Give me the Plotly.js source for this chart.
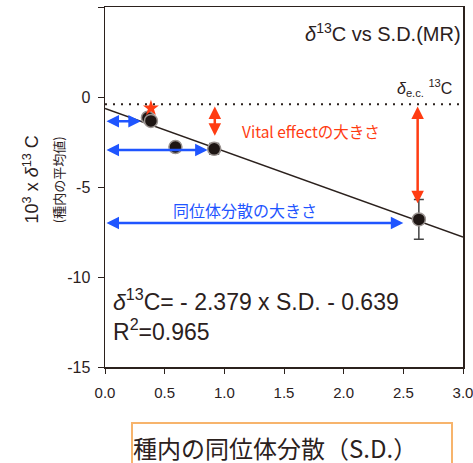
<!DOCTYPE html>
<html><head><meta charset="utf-8">
<script src="https://cdn.plot.ly/plotly-3.0.1.min.js"></script>
<style>body{margin:0;background:#fff}#c{width:473px;height:463px}</style>
</head><body><div id="c"></div>
<script>
// Data
const sdValues = [0.36, 0.385, 0.59, 0.915, 2.63];
const d13Values = [-1.15, -1.33, -2.78, -2.88, -6.8];
const errValues = [0.15, 0.15, 0, 0.3, 1.1];
const fitX = [0, 3];
const fitY = [-0.64, -7.78];
const ecLevel = -0.4;
const starPoint = {x: [0.385], y: [-0.62]};
const xTicks = [0, 0.5, 1, 1.5, 2, 2.5, 3];
const xTickText = ['0.0','0.5','1.0','1.5','2.0','2.5','3.0'];
const yTicks = [5, 0, -5, -10, -15];
const yTickText = ['5','0','-5','-10','-15'];

const dark = '#2b211d';
const blue = '#1f55ff';
const red = '#ff3c12';
const F = 'Liberation Sans, Arial, sans-serif';
const FJ = 'Noto Sans CJK JP, Liberation Sans, sans-serif';

const traces = [
  {x: fitX, y: fitY, mode: 'lines', line: {color: dark, width: 1.5}, hoverinfo: 'skip'},
  {x: sdValues, y: d13Values, mode: 'markers',
   marker: {size: 13, color: '#1e1614', line: {color: '#9a9390', width: 1.5}},
   error_y: {type: 'data', array: errValues, visible: true, color: '#444', thickness: 1.5, width: 5}},
  {x: starPoint.x, y: starPoint.y, mode: 'markers',
   marker: {size: 12, color: red, symbol: 'star'}}
];

function arrow(x0, y0, x1, y1, color) {
  return {x: x1, y: y1, ax: x0, ay: y0, xref: 'x', yref: 'y', axref: 'x', ayref: 'y',
    showarrow: true, arrowhead: 2, startarrowhead: 2, arrowside: 'end+start',
    arrowsize: 1, startarrowsize: 1, arrowwidth: 2.5, arrowcolor: color, text: ''};
}

const layout = {
  width: 473, height: 463,
  margin: {l: 105, r: 10, t: 7, b: 96},
  paper_bgcolor: '#fff', plot_bgcolor: '#fff',
  showlegend: false,
  font: {family: F, color: dark},
  xaxis: {range: [0, 3], tickvals: xTicks, ticktext: xTickText, ticks: 'outside', ticklen: 5,
    tickcolor: dark, showgrid: false, zeroline: false, showline: true, linecolor: dark, linewidth: 1.5,
    mirror: true, ticklabelstandoff: 6, ticklabeloverflow: 'allow',
    tickfont: {size: 15, color: dark, family: F}},
  yaxis: {range: [-15, 5], tickvals: yTicks, ticktext: yTickText, ticks: 'outside', ticklen: 6,
    tickcolor: dark, showgrid: false, zeroline: false, showline: true, linecolor: dark, linewidth: 1.5,
    mirror: true, ticklabelstandoff: 4, tickfont: {size: 16, color: dark, family: F}},
  shapes: [
    {type: 'line', xref: 'x', yref: 'y', x0: 0, x1: 3, y0: ecLevel, y1: ecLevel,
     line: {color: dark, width: 2, dash: '2px,6px'}}
  ],
  annotations: [
    {xref: 'paper', yref: 'paper', x: 1, y: 0.93, xanchor: 'right', yanchor: 'middle', showarrow: false,
     text: '<i>δ</i><sup>13</sup>C vs S.D.(MR)', font: {size: 20, color: dark, family: F}},
    {xref: 'x', yref: 'y', x: 2.43, y: 0.5, xanchor: 'left', yanchor: 'middle', showarrow: false,
     text: '<i>δ</i><sub>e.c.</sub> <sup>13</sup>C', font: {size: 16, color: dark, family: F}},
    {xref: 'x', yref: 'y', x: 0.05, y: -11.25, xanchor: 'left', yanchor: 'middle', showarrow: false,
     text: '<i>δ</i><sup>13</sup>C= - 2.379 x S.D. - 0.639', font: {size: 23, color: dark, family: F}},
    {xref: 'x', yref: 'y', x: 0.05, y: -12.95, xanchor: 'left', yanchor: 'middle', showarrow: false,
     text: 'R<sup>2</sup>=0.965', font: {size: 23, color: dark, family: F}},
    {xref: 'x', yref: 'y', x: 1.13, y: -1.9, xanchor: 'left', yanchor: 'middle', showarrow: false,
     text: 'Vital effectの大きさ', font: {size: 15.5, color: red, family: FJ}},
    {xref: 'x', yref: 'y', x: 0.55, y: -6.3, xanchor: 'left', yanchor: 'middle', showarrow: false,
     text: '同位体分散の大きさ', font: {size: 16, color: blue, family: FJ}},
    {xref: 'paper', yref: 'paper', x: -0.205, y: 0.52, xanchor: 'center', yanchor: 'middle', showarrow: false,
     textangle: -90, text: '10<sup>3</sup> x <i>δ</i><sup>13</sup> C', font: {size: 18, color: dark, family: F}},
    {xref: 'paper', yref: 'paper', x: -0.13, y: 0.52, xanchor: 'center', yanchor: 'middle', showarrow: false,
     textangle: -90, text: '(種内の平均値)', font: {size: 13, color: dark, family: FJ}},
    {xref: 'paper', yref: 'paper', x: 0.522, y: -0.152, xanchor: 'center', yanchor: 'top', showarrow: false,
     width: 318, height: 46, bordercolor: '#f7b46c', borderwidth: 2, borderpad: 0, align: 'left',
     text: '種内の同位体分散（S.D.）', font: {size: 24, color: dark, family: FJ}},
    arrow(0.0, -1.35, 0.3, -1.35, blue),
    arrow(0.0, -2.95, 0.86, -2.95, blue),
    arrow(0.0, -7.0, 2.5, -7.0, blue),
    arrow(0.92, -0.45, 0.92, -2.15, red),
    arrow(2.62, -0.45, 2.62, -5.9, red)
  ]
};

Plotly.newPlot('c', traces, layout, {displayModeBar: false, staticPlot: true});
</script></body></html>
